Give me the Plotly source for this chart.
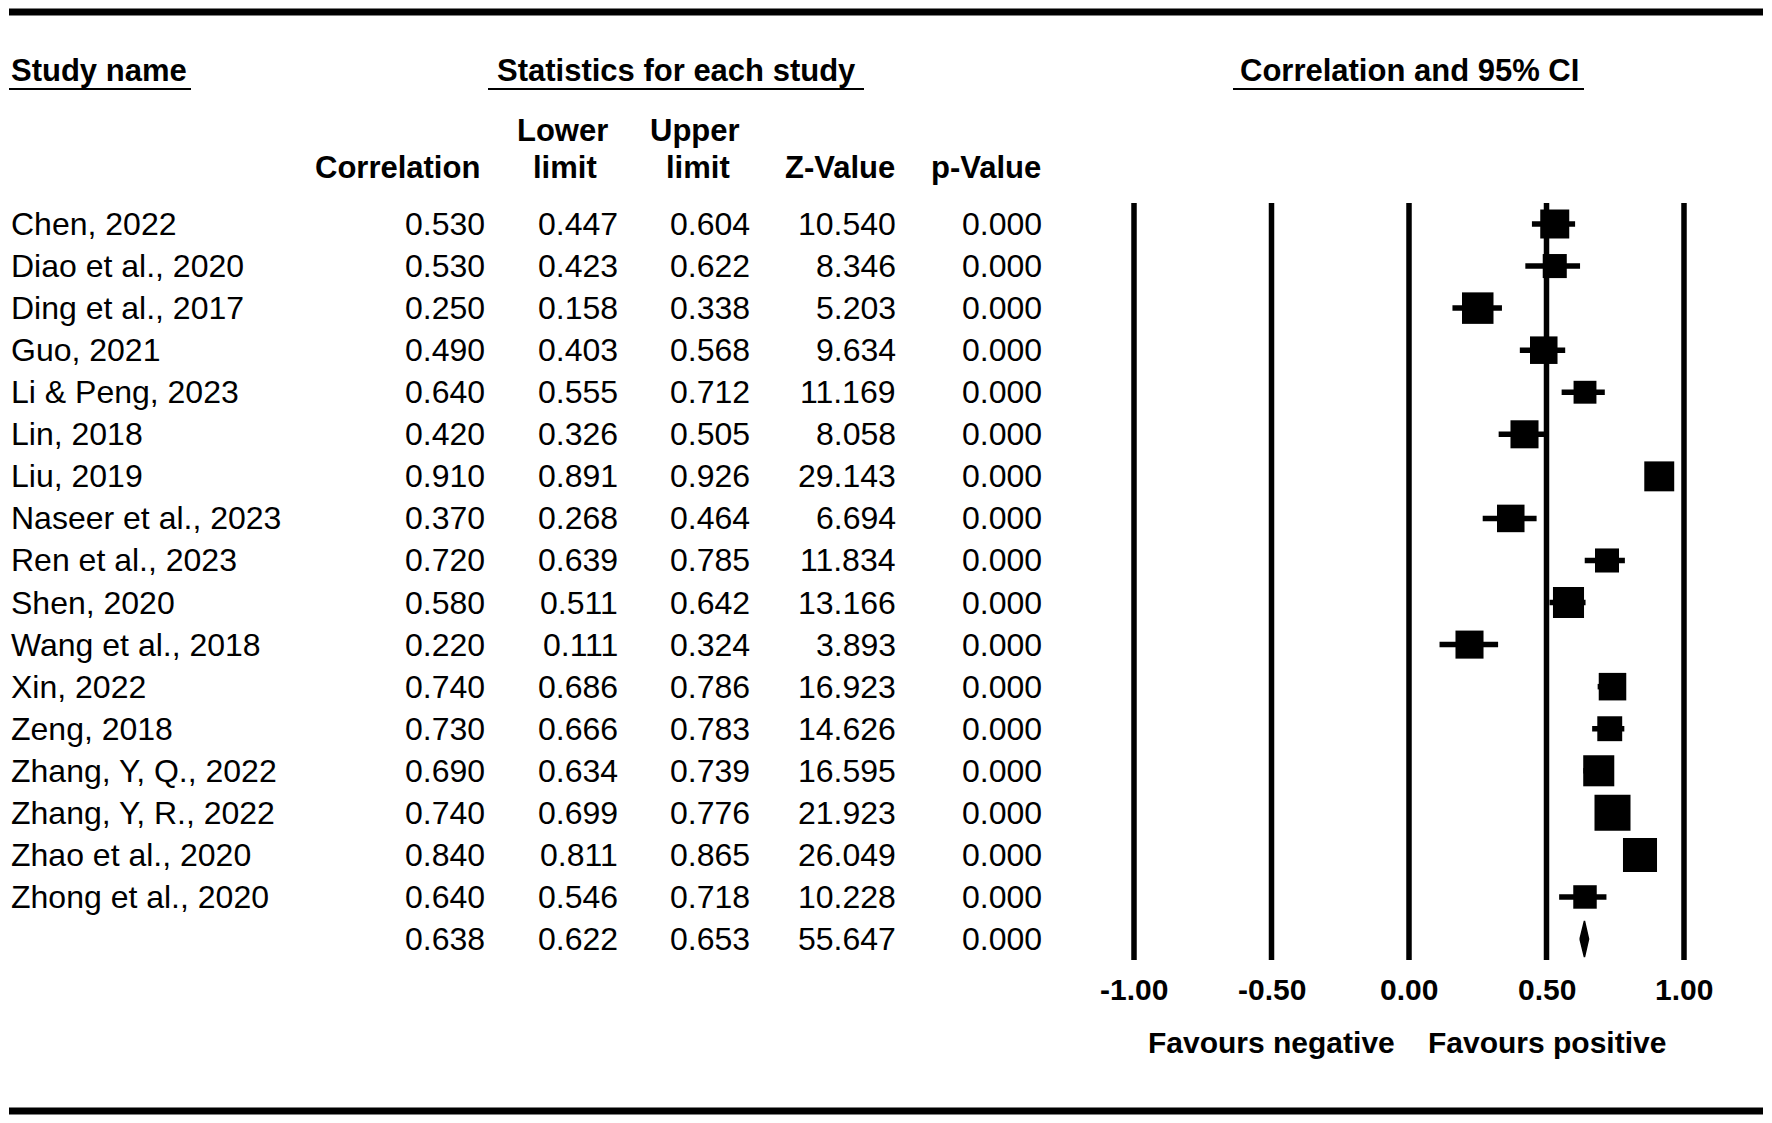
import plotly.graph_objects as go

# ---------------- data ----------------
studies = ["Chen, 2022", "Diao et al., 2020", "Ding et al., 2017", "Guo, 2021",
           "Li & Peng, 2023", "Lin, 2018", "Liu, 2019", "Naseer et al., 2023",
           "Ren et al., 2023", "Shen, 2020", "Wang et al., 2018", "Xin, 2022",
           "Zeng, 2018", "Zhang, Y, Q., 2022", "Zhang, Y, R., 2022",
           "Zhao et al., 2020", "Zhong et al., 2020"]
correlation = [0.530, 0.530, 0.250, 0.490, 0.640, 0.420, 0.910, 0.370, 0.720,
               0.580, 0.220, 0.740, 0.730, 0.690, 0.740, 0.840, 0.640]
lower_limit = [0.447, 0.423, 0.158, 0.403, 0.555, 0.326, 0.891, 0.268, 0.639,
               0.511, 0.111, 0.686, 0.666, 0.634, 0.699, 0.811, 0.546]
upper_limit = [0.604, 0.622, 0.338, 0.568, 0.712, 0.505, 0.926, 0.464, 0.785,
               0.642, 0.324, 0.786, 0.783, 0.739, 0.776, 0.865, 0.718]
z_value = [10.540, 8.346, 5.203, 9.634, 11.169, 8.058, 29.143, 6.694, 11.834,
           13.166, 3.893, 16.923, 14.626, 16.595, 21.923, 26.049, 10.228]
p_value = [0.000] * 17
weights = [6.1, 4.2, 7.2, 5.5, 3.8, 5.7, 6.5, 5.5, 4.2, 7.0, 5.7, 5.5, 4.5,
           7.0, 9.4, 8.4, 4.0]
summary = {"correlation": 0.638, "lower": 0.622, "upper": 0.653,
           "z": 55.647, "p": 0.000}
tick_vals = [-1.0, -0.5, 0.0, 0.5, 1.0]
tick_text = ["-1.00", "-0.50", "0.00", "0.50", "1.00"]

# ---------------- geometry ----------------
W, H = 1772, 1123
OFF = 8                      # page body margin
WF, HF = W - 2 * OFF, H - 2 * OFF
X0, XS = 1409.0, 275.0      # page pixel of r=0, pixels per unit
Y0, YS = 224.0, 42.06       # page pixel of first row, pixels per row
FONT = "Liberation Sans, Arial, Helvetica, sans-serif"


def px(x):
    return (x - OFF) / WF


def py(y):
    return 1 - (y - OFF) / HF


n = len(studies)
rows = list(range(n))
sum_row = n

fig = go.Figure()

# CI whiskers
wx, wy = [], []
for i in rows:
    wx += [lower_limit[i], upper_limit[i], None]
    wy += [i, i, None]
fig.add_trace(go.Scatter(x=wx, y=wy, mode="lines",
                         line=dict(color="black", width=5.5),
                         hoverinfo="skip", showlegend=False))

# squares
k = 36 / (9.4 ** 0.5)
fig.add_trace(go.Scatter(x=correlation, y=rows, mode="markers",
                         marker=dict(symbol="square", color="black", opacity=1,
                                     size=[k * w ** 0.5 for w in weights],
                                     line=dict(width=0)),
                         showlegend=False))

# summary diamond
hh = 0.43
fig.add_trace(go.Scatter(
    x=[summary["lower"], summary["correlation"], summary["upper"],
       summary["correlation"], summary["lower"]],
    y=[sum_row, sum_row - hh, sum_row, sum_row + hh, sum_row],
    mode="lines", fill="toself", fillcolor="black",
    line=dict(color="black", width=1.5), showlegend=False))

shapes = []
# vertical reference lines at ticks
for t in tick_vals:
    shapes.append(dict(type="line", xref="x", yref="y", x0=t, x1=t,
                       y0=-0.5, y1=sum_row + 0.5, layer="below",
                       line=dict(color="black", width=5.5)))
# top & bottom rules
for yy in (12, 1111):
    shapes.append(dict(type="line", xref="paper", yref="paper",
                       x0=px(9), x1=px(1763), y0=py(yy), y1=py(yy),
                       line=dict(color="black", width=7)))
# header underlines
for a, b in ((9, 191), (488, 864), (1233, 1584)):
    shapes.append(dict(type="line", xref="paper", yref="paper",
                       x0=px(a), x1=px(b), y0=py(89), y1=py(89),
                       line=dict(color="black", width=2)))

ann = []


def text(s, x, y, anchor="left", size=32, bold=False, yref="paper"):
    ann.append(dict(text=("<b>%s</b>" % s) if bold else s,
                    x=px(x), y=py(y) if yref == "paper" else y,
                    xref="paper", yref=yref, xanchor=anchor,
                    yanchor="middle", showarrow=False,
                    font=dict(family=FONT, size=size, color="black")))


# headers
text("Study name", 9, 71, "left", 31, True)
text("Statistics for each study", 676, 71, "center", 31, True)
text("Correlation and 95% CI", 1409, 71, "center", 31, True)
text("Correlation", 482, 167, "right", 31, True)
text("Lower", 562, 130, "center", 31, True)
text("limit", 565, 167, "center", 31, True)
text("Upper", 695, 130, "center", 31, True)
text("limit", 698, 167, "center", 31, True)
text("Z-Value", 897, 167, "right", 31, True)
text("p-Value", 1043, 167, "right", 31, True)

cols_x = [487, 620, 752, 898, 1044]
for i in rows:
    text(studies[i], 9, i, "left", 32, yref="y")
    vals = [correlation[i], lower_limit[i], upper_limit[i], z_value[i], p_value[i]]
    for cx, v in zip(cols_x, vals):
        text("%.3f" % v, cx, i, "right", 32, yref="y")
svals = [summary["correlation"], summary["lower"], summary["upper"],
         summary["z"], summary["p"]]
for cx, v in zip(cols_x, svals):
    text("%.3f" % v, cx, sum_row, "right", 32, yref="y")

# tick labels
for t, lab in zip(tick_vals, tick_text):
    text(lab, X0 + XS * t, 989, "center", 30, True)
text("Favours negative", X0 + XS * (-0.5), 1042, "center", 30, True)
text("Favours positive", X0 + XS * 0.5, 1042, "center", 30, True)

fig.update_layout(
    width=WF, height=HF, margin=dict(l=0, r=0, t=0, b=0),
    paper_bgcolor="white", plot_bgcolor="white",
    xaxis=dict(range=[-(X0 - OFF) / XS, (WF - (X0 - OFF)) / XS],
               visible=False, fixedrange=True),
    yaxis=dict(range=[(HF - (Y0 - OFF)) / YS, -(Y0 - OFF) / YS],
               visible=False, fixedrange=True),
    shapes=shapes, annotations=ann, showlegend=False)

fig.write_html("out.html")
